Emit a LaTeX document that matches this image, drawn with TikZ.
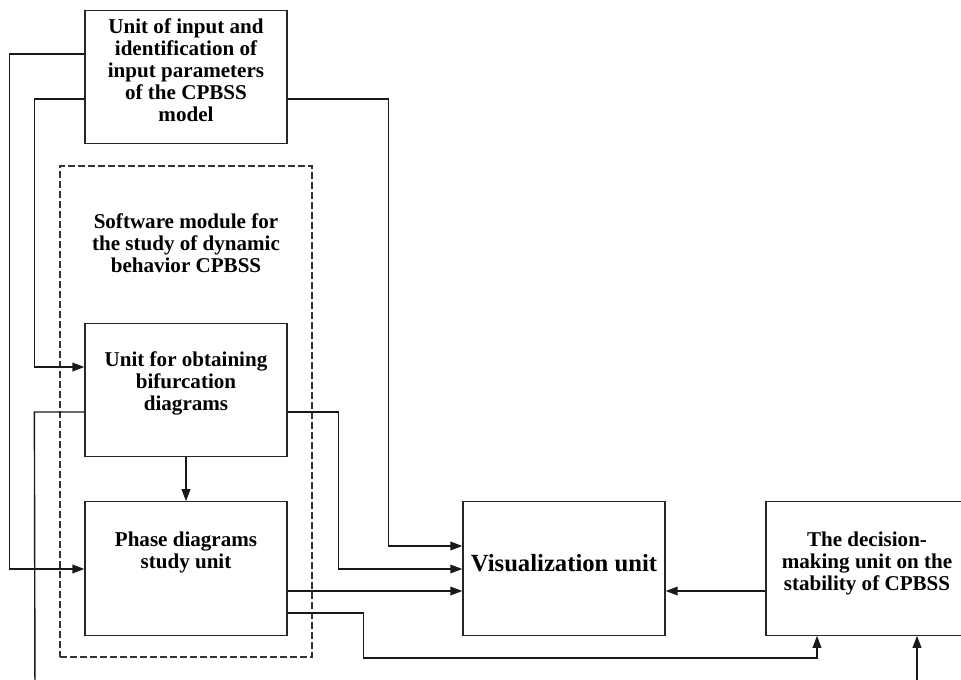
\documentclass[tikz,border=0pt]{standalone}
\usepackage{fontspec}
\setmainfont{Liberation Serif}
\usetikzlibrary{arrows.meta, positioning}

\begin{document}
\begin{tikzpicture}[
  x=0.75pt, y=-0.75pt,
  unit/.style={rectangle, draw=black!85, line width=0.95pt, inner sep=0pt,
               minimum width=151.5pt, minimum height=100pt},
  txt/.style={align=center, font=\fontsize{15.8}{16.5}\selectfont\bfseries},
  bigtxt/.style={align=center, font=\fontsize{18.5}{20}\selectfont\bfseries},
  module/.style={rectangle, draw=black!80, line width=0.85pt, dash pattern=on 5pt off 2.5pt,
                 minimum width=189pt, minimum height=368.25pt},
  arr/.style={-{Triangle[length=9pt, width=6.5pt]}, line width=1.05pt, draw=black!90},
  link/.style={line width=1.05pt, draw=black!90}
]
  \useasboundingbox (0,0) rectangle (961,679);
  \clip (0,0) rectangle (961,679);

  % software module
  \node[module] (module) at (186,411.5) {};
  \node[txt] (moduletitle) at (186,243) {Software module for\\the study of dynamic\\behavior CPBSS};

  % units
  \node[unit, label={[txt, yshift=5pt]center:{Unit of input and\\identification of\\input parameters\\of the CPBSS\\model}}] (input) at (186,77) {};
  \node[unit, label={[txt, yshift=5pt]center:{Unit for obtaining\\bifurcation\\diagrams}}] (bif) at (186,390) {};
  \node[unit, label={[txt, yshift=12pt]center:{Phase diagrams\\study unit}}] (phase) at (186,568.5) {};
  \node[unit, label={[bigtxt, yshift=4pt]center:{Visualization unit}}] (vis) at (564,568.5) {};
  \node[unit, label={[txt, yshift=4pt]center:{The decision-\\making unit on the\\stability of CPBSS}}] (dec) at (867,568.5) {};

  \coordinate (feedA) at (35,700);
  \coordinate (feedB) at (917,700);

  % connectors
  \draw[arr] (input.west |- 0,54) -- ++(-75,0) |- (phase.west |- 0,569);
  \draw[arr] (input.west |- 0,99) -- ++(-50,0) |- (bif.west |- 0,367);
  \draw[link] (bif.west |- 0,412) -- ++(-50,0) -- (feedA);
  \draw[arr] (input.east |- 0,99) -- ++(101,0) |- (vis.west |- 0,546);
  \draw[arr] (bif.east |- 0,412) -- ++(51,0) |- (vis.west |- 0,569);
  \draw[arr] (bif) -- (phase);
  \draw[arr] (phase.east |- 0,591) -- (vis.west |- 0,591);
  \draw[arr] (phase.east |- 0,613) -- ++(76,0) -- ++(0,45) -| (dec.south -| 817,0);
  \draw[arr] (dec.west |- 0,591) -- (vis.east |- 0,591);
  \draw[arr] (feedB) -- (dec.south -| feedB);
\end{tikzpicture}
\end{document}
